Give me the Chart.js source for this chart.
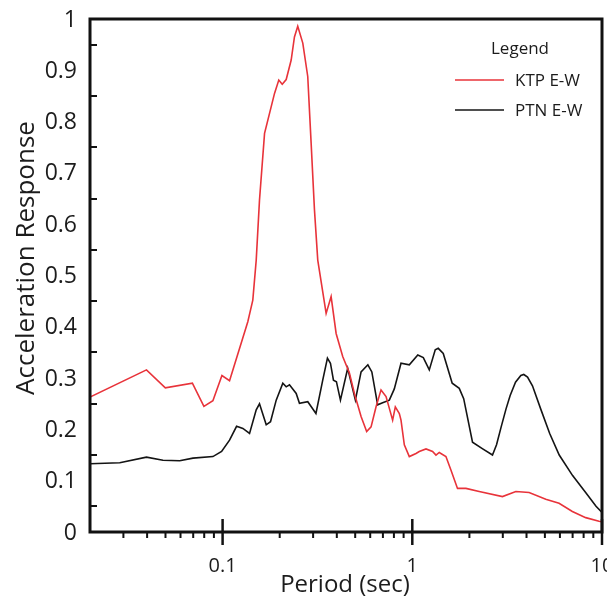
<!DOCTYPE html>
<html><head><meta charset="utf-8">
<script src="https://cdn.jsdelivr.net/npm/chart.js@4"></script>
<style>html,body{margin:0;padding:0;background:#fff}#wrap{width:607px;height:598px}</style>
</head><body><div id="wrap"><canvas id="c" width="607" height="598"></canvas></div>
<script>
const seriesNames = ['KTP E-W', 'PTN E-W'];
const periodKTP = [0.02,0.0397,0.0499,0.0693,0.0797,0.0889,0.0992,0.1088,0.1358,0.1443,0.1504,0.1565,0.1664,0.1878,0.1978,0.2062,0.2164,0.2299,0.2392,0.249,0.2647,0.2811,0.2929,0.305,0.3174,0.3514,0.3733,0.3967,0.4297,0.4661,0.4952,0.537,0.5747,0.6063,0.6441,0.6842,0.7272,0.7568,0.7876,0.8138,0.8543,0.8719,0.9077,0.9643,1.046,1.088,1.181,1.279,1.333,1.387,1.504,1.598,1.731,1.917,2.252,2.987,3.514,4.129,5.054,5.938,6.979,8.208,9.643,10];
const accelKTP = [0.263,0.316,0.281,0.290,0.245,0.256,0.305,0.295,0.410,0.452,0.53,0.647,0.777,0.855,0.881,0.873,0.882,0.920,0.965,0.986,0.953,0.888,0.758,0.628,0.53,0.426,0.459,0.387,0.342,0.31,0.27,0.225,0.196,0.205,0.244,0.277,0.264,0.241,0.218,0.244,0.231,0.218,0.170,0.147,0.153,0.157,0.162,0.157,0.150,0.155,0.147,0.121,0.085,0.085,0.079,0.069,0.079,0.077,0.064,0.056,0.040,0.028,0.021,0.020];
const periodPTN = [0.02,0.0287,0.0397,0.0485,0.0594,0.0698,0.0889,0.0988,0.1088,0.1185,0.1279,0.1387,0.1504,0.1565,0.1698,0.1789,0.1917,0.2077,0.2164,0.2252,0.2443,0.2542,0.2812,0.3105,0.3372,0.357,0.3703,0.384,0.3981,0.418,0.4565,0.5012,0.537,0.5831,0.612,0.6566,0.6976,0.7568,0.8039,0.8719,0.9643,1.069,1.143,1.229,1.321,1.37,1.456,1.623,1.768,1.866,2.077,2.35,2.647,2.78,2.941,3.12,3.28,3.5,3.734,3.87,4.05,4.3,4.75,5.3,5.95,7.0,8.2,9.3,10];
const accelPTN = [0.133,0.135,0.146,0.140,0.139,0.144,0.147,0.157,0.179,0.206,0.202,0.192,0.238,0.250,0.209,0.215,0.257,0.290,0.283,0.287,0.270,0.251,0.254,0.231,0.296,0.339,0.329,0.296,0.293,0.257,0.319,0.257,0.312,0.326,0.312,0.248,0.252,0.257,0.279,0.329,0.326,0.345,0.340,0.316,0.355,0.358,0.348,0.290,0.280,0.260,0.175,0.162,0.150,0.170,0.205,0.240,0.266,0.292,0.305,0.307,0.302,0.285,0.240,0.192,0.150,0.110,0.077,0.050,0.038];
const yTickLabels = ['0','0.1','0.2','0.3','0.4','0.5','0.6','0.7','0.8','0.9','1'];
const xTickLabels = ['0.1','1','10'];
const xMin = 0.02, xMax = 10, yMin = 0, yMax = 1;

const toPts = (xs, ys) => xs.map((x, i) => ({x: x, y: ys[i]}));
const TXT = '#1c1c1c';
const FONT = '"Open Sans", "DejaVu Sans", sans-serif';

const frame = {
  id: 'frame',
  afterDatasetsDraw(chart) {
    const ctx = chart.ctx, xs = chart.scales.x, ys = chart.scales.y;
    const L = xs.left, R = xs.right, T = ys.top, B = ys.bottom;
    ctx.save();
    ctx.strokeStyle = '#111';
    ctx.lineCap = 'butt';
    ctx.lineWidth = 2;
    for (let i = 0; i < yTickLabels.length - 1; i++) {
      const v = (parseFloat(yTickLabels[i]) + parseFloat(yTickLabels[i + 1])) / 2;
      const p = Math.round(ys.getPixelForValue(v));
      ctx.beginPath(); ctx.moveTo(L, p); ctx.lineTo(L + 7, p); ctx.stroke();
    }
    for (let d = 0.01; d < xMax * 0.99; d *= 10) {
      for (let k = 2; k <= 9; k++) {
        const v = d * k;
        if (v <= xMin * 1.001 || v >= xMax) continue;
        const p = xs.getPixelForValue(v);
        ctx.beginPath(); ctx.moveTo(p, B); ctx.lineTo(p, B + 6); ctx.stroke();
      }
    }
    ctx.lineWidth = 2.5;
    xTickLabels.forEach(s => {
      const p = xs.getPixelForValue(parseFloat(s));
      ctx.beginPath(); ctx.moveTo(p, B - 13); ctx.lineTo(p, B + 13); ctx.stroke();
    });
    ctx.lineWidth = 3;
    ctx.strokeRect(L, T, R - L, B - T);
    ctx.fillStyle = TXT;
    ctx.font = '23px ' + FONT;
    ctx.textAlign = 'right'; ctx.textBaseline = 'middle';
    yTickLabels.forEach(s => {
      ctx.fillText(s, L - 13, ys.getPixelForValue(parseFloat(s)) + 1);
    });
    ctx.font = '20px ' + FONT;
    ctx.textAlign = 'center';
    xTickLabels.forEach(s => {
      ctx.fillText(s, xs.getPixelForValue(parseFloat(s)), B + 34);
    });
    ctx.font = '24px ' + FONT;
    ctx.fillText('Period (sec)', 345, B + 53);
    ctx.save();
    ctx.font = '26px ' + FONT;
    ctx.translate(27, 258);
    ctx.rotate(-Math.PI / 2);
    ctx.fillText('Acceleration Response', 0, 0);
    ctx.restore();
    ctx.font = '17px ' + FONT;
    ctx.textAlign = 'left';
    ctx.fillText('Legend', 491, 49);
    chart.data.datasets.forEach((ds, i) => {
      const y = 80 + i * 30;
      ctx.strokeStyle = ds.borderColor; ctx.lineWidth = 1.5;
      ctx.beginPath(); ctx.moveTo(455, y); ctx.lineTo(504, y); ctx.stroke();
      ctx.fillText(ds.label, 515, y + 1);
    });
    ctx.restore();
  }
};

new Chart(document.getElementById('c'), {
  type: 'line',
  data: {
    datasets: [
      {label: seriesNames[0], data: toPts(periodKTP, accelKTP), borderColor: '#e8333a', borderWidth: 1.6, pointRadius: 0, tension: 0, fill: false},
      {label: seriesNames[1], data: toPts(periodPTN, accelPTN), borderColor: '#141414', borderWidth: 1.6, pointRadius: 0, tension: 0, fill: false}
    ]
  },
  options: {
    responsive: false, animation: false, devicePixelRatio: 1,
    layout: {padding: {left: 90, right: 5, top: 19, bottom: 66}},
    scales: {
      x: {type: 'logarithmic', min: xMin, max: xMax, display: false},
      y: {type: 'linear', min: yMin, max: yMax, display: false}
    },
    plugins: {legend: {display: false}, tooltip: {enabled: false}}
  },
  plugins: [frame]
});
</script></body></html>
